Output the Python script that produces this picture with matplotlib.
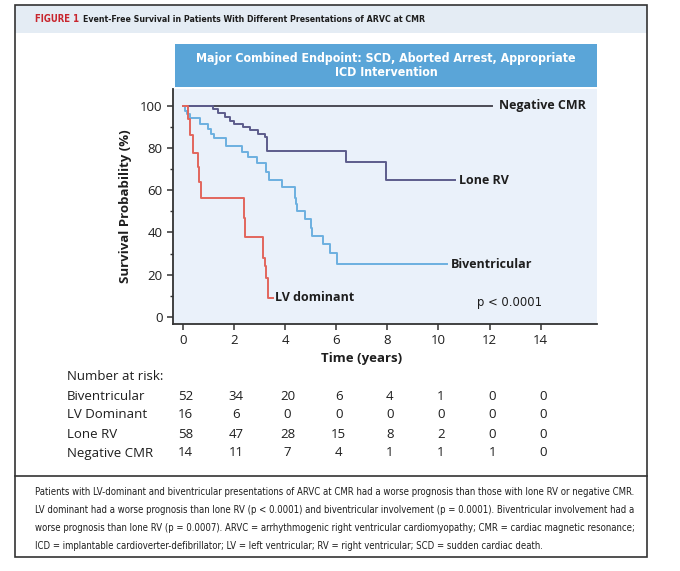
import matplotlib
matplotlib.use("Agg")
import matplotlib.pyplot as plt
import matplotlib.transforms as mtransforms
from matplotlib.patches import Rectangle
from matplotlib.lines import Line2D
from matplotlib.ticker import MultipleLocator

plt.rcParams["font.family"] = ["Open Sans", "DejaVu Sans"]

W, H = 680, 571

# ---------------------------------------------------------------------------
# Kaplan-Meier curves (time in years, survival in %)
# ---------------------------------------------------------------------------
neg_t = [0, 12.1]
neg_s = [100, 100]

lone_t = [0, 1.17, 1.37, 1.65, 1.85, 2.02, 2.37, 2.63, 2.96, 3.20, 3.31,
          6.4, 7.95, 10.65]
lone_s = [100, 98.3, 96.5, 94.6, 92.8, 91.5, 90.0, 88.4, 86.8, 85.2, 78.7,
          73.5, 64.8, 64.8]

biv_t = [0, 0.09, 0.18, 0.29, 0.68, 0.99, 1.10, 1.24, 1.68, 2.31, 2.57,
         2.89, 3.25, 3.38, 3.87, 4.39, 4.43, 4.46, 4.78, 5.00, 5.04, 5.50,
         5.76, 6.02, 10.32]
biv_s = [100, 97.6, 96.0, 94.0, 91.3, 89.0, 86.7, 84.5, 80.7, 78.2, 75.5,
         73.0, 68.5, 64.8, 61.3, 56.5, 53.3, 50.2, 46.3, 42.3, 38.4, 34.4,
         30.5, 25.0, 25.0]

lv_t = [0, 0.20, 0.29, 0.41, 0.61, 0.64, 0.72, 2.38, 2.42, 3.14, 3.20,
        3.27, 3.33, 3.54]
lv_s = [100, 93.8, 86.0, 77.8, 71.1, 64.0, 56.5, 47.0, 38.0, 28.0, 24.0,
        18.3, 9.0, 9.0]

# number at risk
risk_times = [0, 2, 4, 6, 8, 10, 12, 14]
risk_groups = ["Biventricular", "LV Dominant", "Lone RV", "Negative CMR"]
risk_biv = [52, 34, 20, 6, 4, 1, 0, 0]
risk_lv = [16, 6, 0, 0, 0, 0, 0, 0]
risk_lone = [58, 47, 28, 15, 8, 2, 0, 0]
risk_neg = [14, 11, 7, 4, 1, 1, 1, 0]

caption_lines = [
    "Patients with LV-dominant and biventricular presentations of ARVC at CMR had a worse prognosis than those with lone RV or negative CMR.",
    "LV dominant had a worse prognosis than lone RV (p < 0.0001) and biventricular involvement (p = 0.0001). Biventricular involvement had a",
    "worse prognosis than lone RV (p = 0.0007). ARVC = arrhythmogenic right ventricular cardiomyopathy; CMR = cardiac magnetic resonance;",
    "ICD = implantable cardioverter-defibrillator; LV = left ventricular; RV = right ventricular; SCD = sudden cardiac death.",
]

C_NEG = "#4b4b55"
C_LONE = "#5d5c8c"
C_BIV = "#6cb0e0"
C_LV = "#e2665c"
C_TXT = "#1e1e1e"
NARROW = dict(family=["DejaVu Sans"], fontstretch="condensed")


def fx(px):
    return px / W


def fy(py):
    return 1 - py / H


fig = plt.figure(figsize=(W / 100, H / 100), dpi=100)
renderer = fig.canvas.get_renderer()


def fit_width(txt, target_px):
    # 参照図は細身の書体なので、幅が合うように文字サイズを調整する
    w = txt.get_window_extent(renderer).width
    txt.set_fontsize(txt.get_fontsize() * target_px / w)
    return txt


# frame, title bar, caption separator
fig.patches.append(Rectangle((fx(15), fy(33)), fx(647) - fx(15), fy(5) - fy(33),
                             transform=fig.transFigure, facecolor="#e4ecf4",
                             edgecolor="none", zorder=0))
fig.patches.append(Rectangle((fx(15), fy(557)), fx(647) - fx(15), fy(5) - fy(557),
                             transform=fig.transFigure, facecolor="none",
                             edgecolor="#333333", lw=1.2, zorder=5))
fig.lines.append(Line2D([fx(15), fx(647)], [fy(476), fy(476)],
                        transform=fig.transFigure, color="#333333", lw=1.2))

t1 = fig.text(fx(35), fy(19), "FIGURE 1", color="#c8262e", fontsize=7,
              fontweight="bold", va="center", **NARROW)
fit_width(t1, 44)
t2 = fig.text(fx(83), fy(19),
              "Event-Free Survival in Patients With Different Presentations of ARVC at CMR",
              color=C_TXT, fontsize=7, fontweight="bold", va="center", **NARROW)
fit_width(t2, 340)

# header box
fig.patches.append(Rectangle((fx(175), fy(87)), fx(597) - fx(175), fy(44) - fy(87),
                             transform=fig.transFigure, facecolor="#5aa5d8",
                             edgecolor="none"))
hdr = fig.text(fx(386), fy(65.5),
               "Major Combined Endpoint: SCD, Aborted Arrest, Appropriate\nICD Intervention",
               color="white", fontsize=10, fontweight="bold", ha="center",
               va="center", linespacing=1.1, **NARROW)
fit_width(hdr, 380)

# ---------------------------------------------------------------------------
# survival axes
# ---------------------------------------------------------------------------
ax = fig.add_axes([fx(173), fy(324), fx(597) - fx(173), fy(89) - fy(324)])
ax.set_facecolor("#eaf1fa")
x0, x1 = -0.38, 16.2
ax.set_xlim(x0, x1)
ax.set_ylim(-3.3, 107.9)

ax.step(neg_t, neg_s, where="post", color=C_NEG, lw=1.4)
ax.step(lone_t, lone_s, where="post", color=C_LONE, lw=1.4)
ax.step(biv_t, biv_s, where="post", color=C_BIV, lw=1.4)
ax.step(lv_t, lv_s, where="post", color=C_LV, lw=1.4)

lab = dict(fontsize=9, fontweight="bold", color=C_TXT, va="center")
ax.text(12.38, 100, "Negative CMR", **lab)
ax.text(10.82, 64.8, "Lone RV", **lab)
ax.text(10.47, 25, "Biventricular", **lab)
ax.text(3.6, 9.3, "LV dominant", **lab)
pval = ax.text(11.5, 7, "p < 0.0001", fontsize=10, color=C_TXT, va="center",
               **NARROW)
fit_width(pval, 65)

for s in ["top", "right"]:
    ax.spines[s].set_visible(False)
for s in ["left", "bottom"]:
    ax.spines[s].set_color("#333333")
    ax.spines[s].set_linewidth(1.3)

ax.set_xticks(risk_times)
ax.set_yticks([0, 20, 40, 60, 80, 100])
ax.yaxis.set_minor_locator(MultipleLocator(10))
ax.tick_params(axis="both", which="major", length=4, width=1.1,
               color="#333333", labelsize=9.5, labelcolor=C_TXT)
ax.tick_params(axis="y", which="minor", length=2.5, width=1.0, color="#333333")
ax.set_xlabel("Time (years)", fontsize=9.5, fontweight="bold", color=C_TXT,
              labelpad=3)
ax.xaxis.label.set_x((7 - x0) / (x1 - x0))
ax.set_ylabel("Survival Probability (%)", fontsize=9.5, fontweight="bold",
              color=C_TXT, labelpad=6)

# ---------------------------------------------------------------------------
# number-at-risk table
# ---------------------------------------------------------------------------
tr = mtransforms.blended_transform_factory(ax.transData, fig.transFigure)
tab = dict(fontsize=9.5, color=C_TXT, va="center", fontweight="medium")
fig.text(fx(67), fy(377), "Number at risk:", **tab)
row_y = [396, 415, 434, 453]
for name, counts, yy in zip(risk_groups, [risk_biv, risk_lv, risk_lone, risk_neg],
                            row_y):
    fig.text(fx(67), fy(yy), name, **tab)
    for t, n in zip(risk_times, counts):
        ax.text(t + 0.1, fy(yy), str(n), transform=tr, ha="center", **tab)

# caption
cap = [fig.text(fx(35), fy(492 + i * 18), line, fontsize=6.6, color=C_TXT,
                va="center", **NARROW) for i, line in enumerate(caption_lines)]
fit_width(cap[0], 600)
for c in cap[1:]:
    c.set_fontsize(cap[0].get_fontsize())

fig.savefig("out.png", dpi=100)
